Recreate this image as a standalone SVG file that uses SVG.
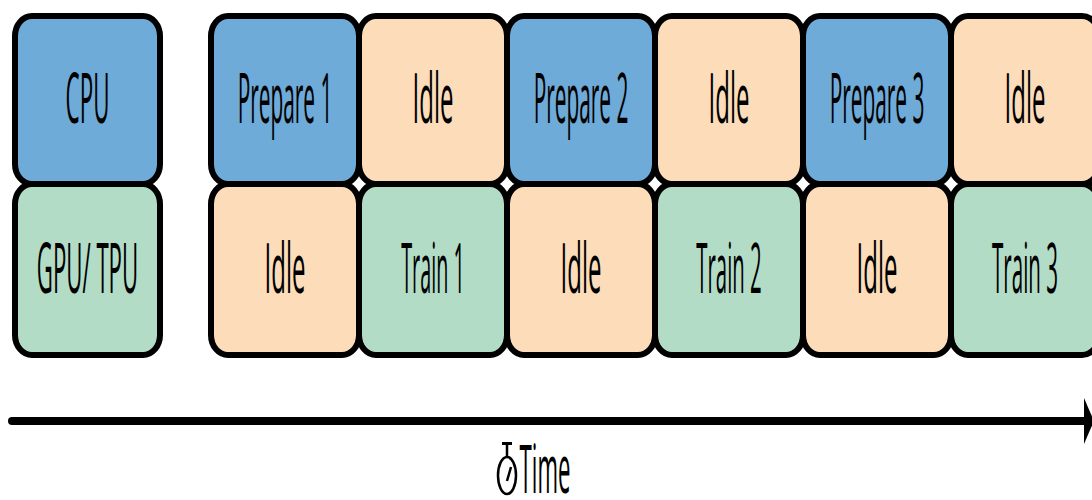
<svg xmlns="http://www.w3.org/2000/svg" width="1092" height="500" viewBox="0 0 1092 500">
  <style>
    .box { stroke: #000; stroke-width: 6; }
    .cpu { fill: #6fabd8; }
    .idle { fill: #fcdcb9; }
    .gpu { fill: #b3dcc7; }
    .lbl { font-family: "Open Sans", "DejaVu Sans", sans-serif; font-size: 70px; font-weight: 500; fill: #000; text-anchor: middle; }
  </style>
  <defs>
    <marker id="arrowhead" markerUnits="userSpaceOnUse" markerWidth="12" markerHeight="48" viewBox="0 0 12 48" refX="0" refY="24" orient="auto">
      <path d="M0,1 L10,24 L0,47 Z" fill="#000"/>
    </marker>
  </defs>
  <rect width="1092" height="500" fill="#fff"/>

  <g id="row-labels">
    <g id="cpu-label">
      <rect class="box cpu" x="15" y="16" width="145" height="168" rx="17" ry="20"/>
      <text class="lbl" transform="translate(87.5,123) scale(0.32,1)">CPU</text>
    </g>
    <g id="gpu-label">
      <rect class="box gpu" x="15" y="184" width="145" height="171" rx="17" ry="20"/>
      <text class="lbl" transform="translate(87.5,293) scale(0.317,1)">GPU/ TPU</text>
    </g>
  </g>

  <g id="cpu-row">
    <g id="prepare1">
      <rect class="box cpu" x="211" y="16" width="148" height="168" rx="17" ry="20"/>
      <text class="lbl" transform="translate(285,123) scale(0.298,1)">Prepare 1</text>
    </g>
    <g id="cpu-idle1">
      <rect class="box idle" x="359" y="16" width="148" height="168" rx="17" ry="20"/>
      <text class="lbl" transform="translate(433,123) scale(0.343,1)">Idle</text>
    </g>
    <g id="prepare2">
      <rect class="box cpu" x="507" y="16" width="148" height="168" rx="17" ry="20"/>
      <text class="lbl" transform="translate(581,123) scale(0.298,1)">Prepare 2</text>
    </g>
    <g id="cpu-idle2">
      <rect class="box idle" x="655" y="16" width="148" height="168" rx="17" ry="20"/>
      <text class="lbl" transform="translate(729,123) scale(0.343,1)">Idle</text>
    </g>
    <g id="prepare3">
      <rect class="box cpu" x="803" y="16" width="148" height="168" rx="17" ry="20"/>
      <text class="lbl" transform="translate(877,123) scale(0.298,1)">Prepare 3</text>
    </g>
    <g id="cpu-idle3">
      <rect class="box idle" x="951" y="16" width="148" height="168" rx="17" ry="20"/>
      <text class="lbl" transform="translate(1025,123) scale(0.343,1)">Idle</text>
    </g>
  </g>

  <g id="gpu-row">
    <g id="gpu-idle1">
      <rect class="box idle" x="211" y="184" width="148" height="171" rx="17" ry="20"/>
      <text class="lbl" transform="translate(285,293) scale(0.343,1)">Idle</text>
    </g>
    <g id="train1">
      <rect class="box gpu" x="359" y="184" width="148" height="171" rx="17" ry="20"/>
      <text class="lbl" transform="translate(433,293) scale(0.283,1)">Train 1</text>
    </g>
    <g id="gpu-idle2">
      <rect class="box idle" x="507" y="184" width="148" height="171" rx="17" ry="20"/>
      <text class="lbl" transform="translate(581,293) scale(0.343,1)">Idle</text>
    </g>
    <g id="train2">
      <rect class="box gpu" x="655" y="184" width="148" height="171" rx="17" ry="20"/>
      <text class="lbl" transform="translate(729,293) scale(0.291,1)">Train 2</text>
    </g>
    <g id="gpu-idle3">
      <rect class="box idle" x="803" y="184" width="148" height="171" rx="17" ry="20"/>
      <text class="lbl" transform="translate(877,293) scale(0.343,1)">Idle</text>
    </g>
    <g id="train3">
      <rect class="box gpu" x="951" y="184" width="148" height="171" rx="17" ry="20"/>
      <text class="lbl" transform="translate(1025,293) scale(0.294,1)">Train 3</text>
    </g>
  </g>

  <g id="connectors">
    <line id="time-axis" x1="12" y1="421" x2="1084" y2="421" stroke="#000" stroke-width="8" stroke-linecap="round" marker-end="url(#arrowhead)"/>
  </g>

  <g id="time-label">
    <g fill="none" stroke="#000">
      <line x1="502" y1="443.5" x2="512" y2="443.5" stroke-width="3"/>
      <line x1="507" y1="443" x2="507" y2="457" stroke-width="2.5"/>
      <ellipse cx="507" cy="475.5" rx="9" ry="18.5" stroke-width="2.5"/>
      <line x1="507" y1="481" x2="511" y2="467" stroke-width="2.5"/>
    </g>
    <text transform="translate(545,493) scale(0.332,1)" font-family="Open Sans, DejaVu Sans, sans-serif" font-size="67" font-weight="500" text-anchor="middle">Time</text>
  </g>
</svg>
